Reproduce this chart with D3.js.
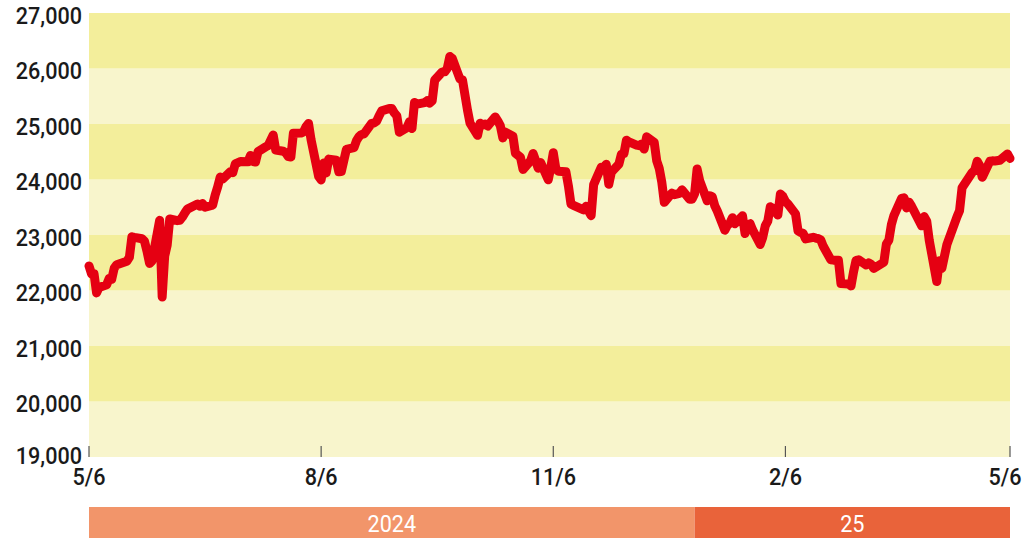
<!DOCTYPE html>
<html><head><meta charset="utf-8">
<script src="https://cdn.jsdelivr.net/npm/d3@7"></script>
<style>html,body{margin:0;padding:0;background:#fff;overflow:hidden}svg{display:block}</style>
</head><body>
<svg id="c" width="1024" height="538"></svg>
<script>
const dates = ["2024-05-06","2024-05-07","2024-05-08","2024-05-09","2024-05-10","2024-05-13","2024-05-14","2024-05-15","2024-05-16","2024-05-17","2024-05-21","2024-05-22","2024-05-23","2024-05-24","2024-05-27","2024-05-28","2024-05-29","2024-05-30","2024-05-31","2024-06-03","2024-06-04","2024-06-05","2024-06-06","2024-06-07","2024-06-10","2024-06-11","2024-06-12","2024-06-13","2024-06-14","2024-06-18","2024-06-19","2024-06-20","2024-06-21","2024-06-24","2024-06-25","2024-06-26","2024-06-27","2024-06-28","2024-07-01","2024-07-02","2024-07-03","2024-07-04","2024-07-05","2024-07-08","2024-07-09","2024-07-10","2024-07-11","2024-07-12","2024-07-15","2024-07-16","2024-07-18","2024-07-19","2024-07-22","2024-07-23","2024-07-24","2024-07-25","2024-07-26","2024-07-29","2024-07-30","2024-07-31","2024-08-01","2024-08-02","2024-08-05","2024-08-06","2024-08-07","2024-08-08","2024-08-09","2024-08-12","2024-08-13","2024-08-14","2024-08-16","2024-08-19","2024-08-20","2024-08-21","2024-08-22","2024-08-23","2024-08-26","2024-08-27","2024-08-28","2024-08-29","2024-08-30","2024-09-02","2024-09-03","2024-09-04","2024-09-05","2024-09-06","2024-09-09","2024-09-10","2024-09-11","2024-09-12","2024-09-13","2024-09-16","2024-09-17","2024-09-18","2024-09-19","2024-09-20","2024-09-23","2024-09-24","2024-09-25","2024-09-26","2024-09-27","2024-09-30","2024-10-01","2024-10-03","2024-10-04","2024-10-07","2024-10-08","2024-10-09","2024-10-10","2024-10-11","2024-10-14","2024-10-15","2024-10-16","2024-10-17","2024-10-18","2024-10-21","2024-10-22","2024-10-23","2024-10-24","2024-10-25","2024-10-28","2024-10-29","2024-10-30","2024-10-31","2024-11-01","2024-11-04","2024-11-05","2024-11-06","2024-11-07","2024-11-08","2024-11-11","2024-11-12","2024-11-13","2024-11-14","2024-11-18","2024-11-19","2024-11-21","2024-11-22","2024-11-25","2024-11-26","2024-11-27","2024-11-28","2024-11-29","2024-12-02","2024-12-03","2024-12-04","2024-12-05","2024-12-06","2024-12-09","2024-12-10","2024-12-11","2024-12-12","2024-12-13","2024-12-16","2024-12-17","2024-12-18","2024-12-19","2024-12-20","2024-12-23","2024-12-24","2024-12-26","2024-12-27","2024-12-30","2024-12-31","2025-01-01","2025-01-02","2025-01-03","2025-01-06","2025-01-07","2025-01-08","2025-01-09","2025-01-10","2025-01-13","2025-01-14","2025-01-15","2025-01-16","2025-01-17","2025-01-20","2025-01-21","2025-01-22","2025-01-23","2025-01-24","2025-01-27","2025-01-28","2025-01-29","2025-01-30","2025-01-31","2025-02-01","2025-02-03","2025-02-04","2025-02-05","2025-02-06","2025-02-07","2025-02-10","2025-02-11","2025-02-12","2025-02-13","2025-02-14","2025-02-17","2025-02-18","2025-02-19","2025-02-20","2025-02-21","2025-02-24","2025-02-25","2025-02-27","2025-02-28","2025-03-03","2025-03-04","2025-03-05","2025-03-06","2025-03-07","2025-03-10","2025-03-11","2025-03-12","2025-03-13","2025-03-17","2025-03-18","2025-03-19","2025-03-20","2025-03-21","2025-03-24","2025-03-25","2025-03-26","2025-03-27","2025-03-28","2025-04-01","2025-04-02","2025-04-03","2025-04-04","2025-04-07","2025-04-08","2025-04-09","2025-04-11","2025-04-15","2025-04-16","2025-04-17","2025-04-21","2025-04-22","2025-04-23","2025-04-24","2025-04-25","2025-04-28","2025-04-29","2025-04-30","2025-05-02","2025-05-05","2025-05-06"];
const values = [22442,22302,22302,21957,22055,22104,22218,22201,22403,22466,22529,22597,22967,22957,22932,22888,22704,22488,22531,23264,21884,22620,22821,23290,23259,23264,23323,23399,23466,23557,23516,23567,23501,23538,23721,23868,24044,24011,24141,24124,24286,24302,24324,24321,24433,24324,24316,24502,24587,24613,24801,24531,24509,24479,24413,24406,24835,24836,24857,24951,25011,24718,24056,23992,24297,24117,24368,24347,24139,24144,24541,24573,24699,24771,24811,24823,25011,25018,25052,25152,25236,25279,25280,25199,25145,24852,24936,25041,24918,25389,25357,25384,25419,25377,25416,25791,25939,25940,26004,26216,26179,25811,25797,25250,25015,24796,25013,24982,24998,24964,25128,25057,24971,24749,24854,24781,24472,24435,24399,24181,24339,24467,24341,24205,24304,23995,24213,24484,24199,24148,24141,23883,23559,23533,23453,23518,23349,23907,24221,24194,24275,23914,24131,24276,24457,24467,24708,24677,24619,24610,24641,24548,24768,24668,24336,24198,23952,23588,23753,23727,23750,23813,23645,23645,23743,24189,23982,23616,23707,23689,23526,23432,23086,23176,23213,23312,23203,23345,23025,23155,23205,23092,22829,22957,23163,23249,23508,23482,23361,23739,23696,23603,23560,23381,23072,23045,23031,22929,22959,22945,22933,22913,22796,22553,22547,22545,22125,22119,22083,22337,22544,22553,22460,22497,22470,22397,22509,22834,22908,23190,23350,23658,23669,23487,23592,23519,23165,23332,23250,22904,22161,22536,22399,22829,23328,23437,23852,24125,24167,24329,24247,24039,24328,24336,24334,24346,24461,24380];
const yTicks = [19000,20000,21000,22000,23000,24000,25000,26000,27000];
const xTickDates = ["2024-05-06","2024-08-06","2024-11-06","2025-02-06","2025-05-06"];
const xTickLabels = ["5/6","8/6","11/6","2/6","5/6"];
const yearLabels = ["2024","25"];
const yearStarts = ["2024-05-06","2025-01-01"];
const yearEnds = ["2025-01-01","2025-05-06"];

const parse = d3.timeParse("%Y-%m-%d");
const data = dates.map((d,i)=>({date:parse(d), value:values[i]}));
const svg = d3.select("#c");
const pL = 89, pR = 1010, pT = 13, pB = 457;
const x = d3.scaleTime().domain([parse("2024-05-06"), parse("2025-05-06")]).range([pL, pR]);
const y = d3.scaleLinear().domain([19000, 27000]).range([pB, pT]);
const FONT = "Roboto, 'Noto Sans', sans-serif";

// bands
const bands = d3.range(19000, 27000, 1000);
svg.append("g").selectAll("rect").data(bands).join("rect")
  .attr("x", pL).attr("width", pR-pL)
  .attr("y", d=>y(d+1000)).attr("height", d=>y(d)-y(d+1000))
  .attr("fill", d=> ((d/1000)%2===0) ? "#f3ee9b" : "#f8f5cc");

// x ticks
svg.append("g").selectAll("line").data(xTickDates).join("line")
  .attr("x1", d=>x(parse(d))).attr("x2", d=>x(parse(d)))
  .attr("y1", pB-11).attr("y2", pB)
  .attr("stroke", "#555").attr("stroke-width", 1.2);

// y labels (slightly condensed)
svg.append("g").selectAll("text").data(yTicks).join("text")
  .attr("transform", d=>`translate(82,${y(d) + (d===19000 ? -2 : 2)}) scale(0.9,1)`)
  .attr("dy", "0.36em")
  .attr("text-anchor", "end")
  .attr("font-family", FONT).attr("font-size", 24).attr("font-weight", 500)
  .attr("fill", "#1a1a1a")
  .text(d=>d3.format(",")(d));

// x labels
svg.append("g").selectAll("text").data(xTickDates).join("text")
  .attr("transform", d=>{
    const px = Math.min(x(parse(d)), 1005);
    return `translate(${px},485) scale(0.9,1)`;
  })
  .attr("text-anchor", "middle")
  .attr("font-family", FONT).attr("font-size", 24).attr("font-weight", 500)
  .attr("fill", "#1a1a1a")
  .text((d,i)=>xTickLabels[i]);

// year bar
const yearColors = ["#f2956a","#e9633a"];
svg.append("g").selectAll("rect").data(yearLabels).join("rect")
  .attr("x", (d,i)=>x(parse(yearStarts[i])))
  .attr("width", (d,i)=>x(parse(yearEnds[i]))-x(parse(yearStarts[i])))
  .attr("y", 507).attr("height", 31)
  .attr("fill", (d,i)=>yearColors[i]);
svg.append("g").selectAll("text").data(yearLabels).join("text")
  .attr("transform", (d,i)=>`translate(${(x(parse(yearStarts[i]))+x(parse(yearEnds[i])))/2},532) scale(0.9,1)`)
  .attr("text-anchor", "middle")
  .attr("font-family", FONT).attr("font-size", 24).attr("font-weight", 400)
  .attr("fill", "#fff")
  .text(d=>d);

// line
svg.append("path").datum(data)
  .attr("d", d3.line().x(d=>x(d.date)).y(d=>y(d.value)))
  .attr("fill", "none").attr("stroke", "#e50012").attr("stroke-width", 9)
  .attr("stroke-linejoin", "round").attr("stroke-linecap", "round");
</script>
</body></html>
